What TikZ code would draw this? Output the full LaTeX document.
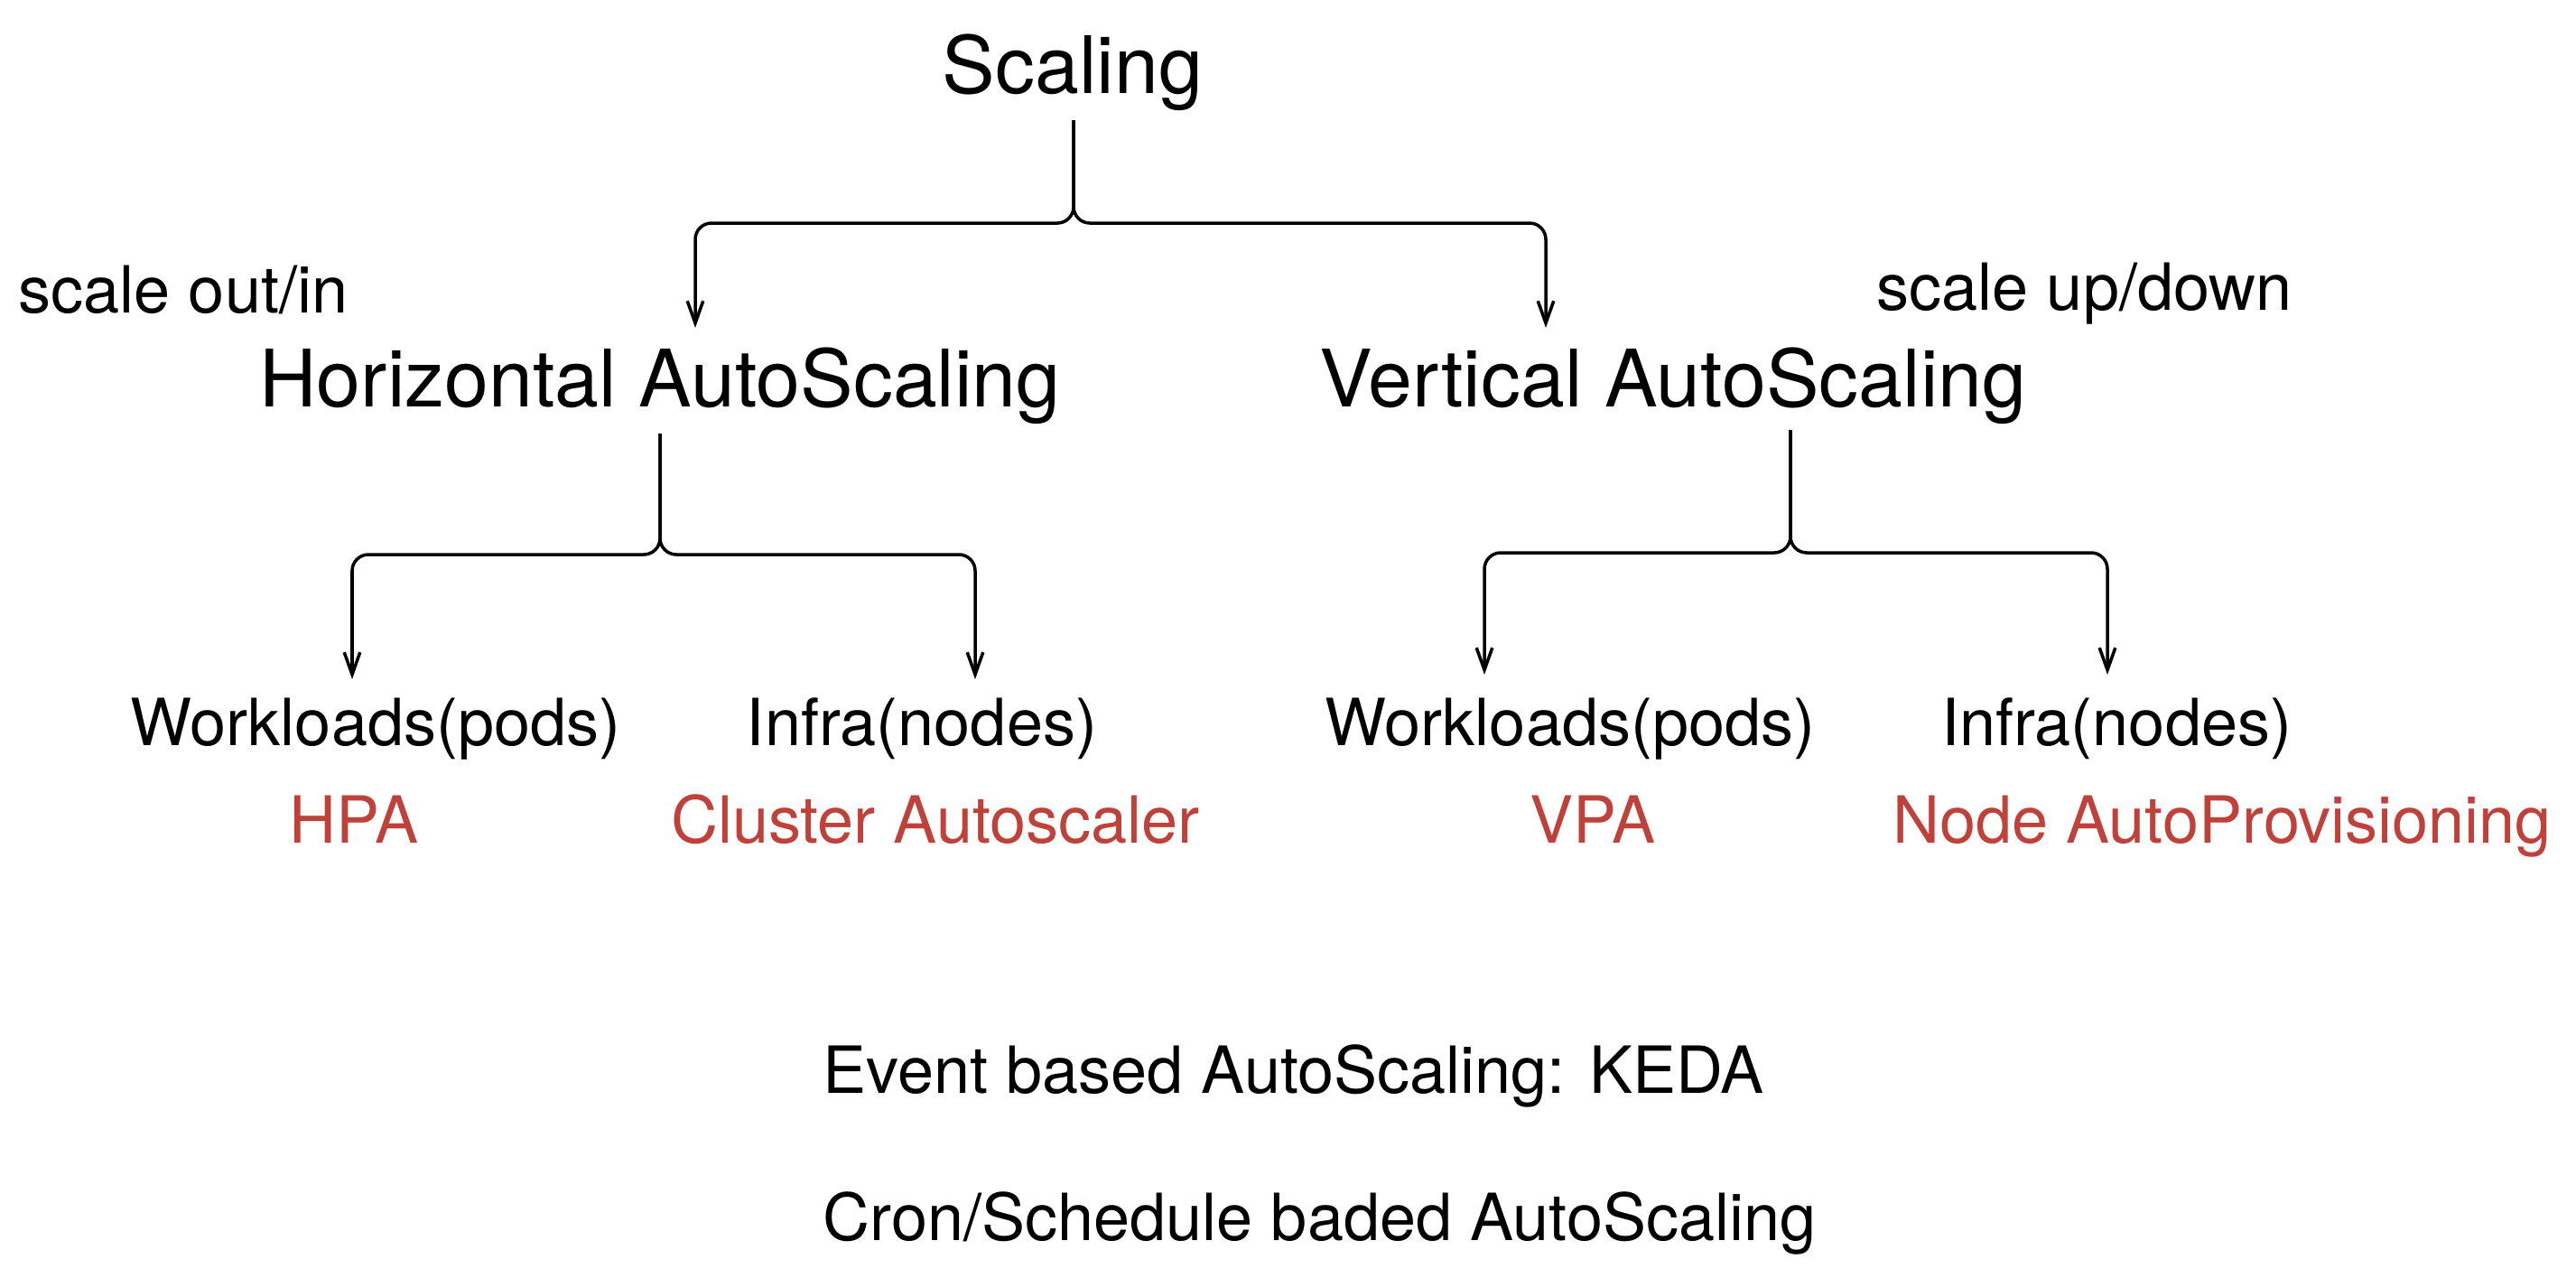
\documentclass[tikz,border=0pt]{standalone}
\usepackage{fontspec}
\setmainfont{TeX Gyre Heros}
\usetikzlibrary{arrows.meta}
\definecolor{toolred}{RGB}{192,64,58}

\begin{document}
\begin{tikzpicture}[%
        line width = 1.0pt,
        > = {Straight Barb[length = 7pt, width = 5pt]},
        every node/.style = {inner sep = 0pt, anchor = base},
        level/.style = {font = \fontsize{25pt}{30pt}\selectfont},
        item/.style = {font = \fontsize{20.5pt}{25pt}\selectfont},
        tool/.style = {item, text = toolred},
        split/.style = {->, rounded corners = 1.8mm},
    ]

        % Size of the page.
        \useasboundingbox (0.0, 0.0) rectangle (28.53, -14.14);

        % The three levels of the tree.
        \node [level] (scaling) at (11.88, -1.03) {Scaling};
        \node [level] (horiz) at (7.31, -4.50) {Horizontal AutoScaling};
        \node [level] (vert) at (18.53, -4.50) {Vertical AutoScaling};

        % What each kind of scaling does.
        \node [item, anchor = base west] (outin) at (0.19, -3.46) {scale out/in};
        \node [item, anchor = base west] (updown) at (20.77, -3.43) {scale up/down};

        % Targets and the tools for them.
        \node [item] (hwork) at (4.16, -8.25) {Workloads(pods)};
        \node [item] (hinfra) at (10.21, -8.25) {Infra(nodes)};
        \node [item] (vwork) at (17.39, -8.25) {Workloads(pods)};
        \node [item] (vinfra) at (23.44, -8.25) {Infra(nodes)};
        \node [tool] (hpa) at (3.92, -9.33) {HPA};
        \node [tool] (ca) at (10.36, -9.33) {Cluster Autoscaler};
        \node [tool] (vpa) at (17.64, -9.33) {VPA};
        \node [tool] (nap) at (24.61, -9.33) {Node AutoProvisioning};

        % Other ways of scaling.
        \node [item, anchor = base west] (keda) at (9.10, -12.10) {Event based AutoScaling: KEDA};
        \node [item, anchor = base west] (cron) at (9.10, -13.73) {Cron/Schedule baded AutoScaling};

        % Where the brackets start, split and end.
        \coordinate (scaling-out) at (11.89, -1.33);
        \coordinate (scaling-split) at (11.89, -2.47);
        \coordinate (horiz-in) at (7.70, -3.63);
        \coordinate (vert-in) at (17.12, -3.63);

        \coordinate (horiz-out) at (7.31, -4.80);
        \coordinate (horiz-split) at (7.31, -6.14);
        \coordinate (hwork-in) at (3.90, -7.52);
        \coordinate (hinfra-in) at (10.80, -7.52);

        \coordinate (vert-out) at (19.83, -4.76);
        \coordinate (vert-split) at (19.83, -6.12);
        \coordinate (vwork-in) at (16.44, -7.47);
        \coordinate (vinfra-in) at (23.34, -7.47);

        % Draw the brackets.
        \draw [split] (scaling-out) |- (scaling-split -| horiz-in) -- (horiz-in);
        \draw [split] (scaling-out) |- (scaling-split -| vert-in) -- (vert-in);
        \draw [split] (horiz-out) |- (horiz-split -| hwork-in) -- (hwork-in);
        \draw [split] (horiz-out) |- (horiz-split -| hinfra-in) -- (hinfra-in);
        \draw [split] (vert-out) |- (vert-split -| vwork-in) -- (vwork-in);
        \draw [split] (vert-out) |- (vert-split -| vinfra-in) -- (vinfra-in);
    \end{tikzpicture}
\end{document}
